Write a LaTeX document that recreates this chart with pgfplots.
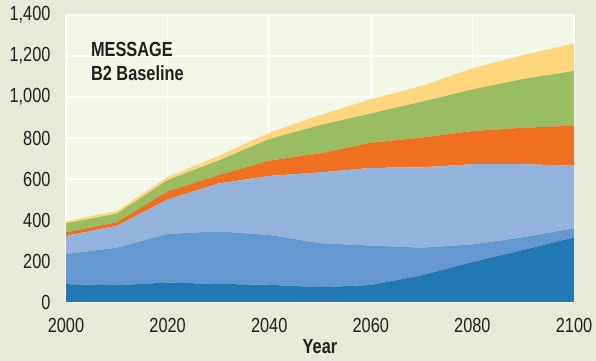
\documentclass[border=0pt]{standalone}
\usepackage{pgfplots}
\pgfplotsset{compat=1.18}
\usepackage{pgfplotstable}
\usepackage{fontspec}
\setmainfont{Liberation Sans}[FakeStretch=0.8]

\definecolor{outerbg}{RGB}{232,234,216}
\definecolor{plotbg}{RGB}{243,247,232}
\definecolor{txt}{RGB}{35,31,32}
\definecolor{cdark}{RGB}{34,120,181}
\definecolor{cmid}{RGB}{99,153,208}
\definecolor{clight}{RGB}{148,180,222}
\definecolor{corange}{RGB}{240,112,34}
\definecolor{cgreen}{RGB}{155,189,98}
\definecolor{cyellow}{RGB}{255,214,126}

% stacked increments
\pgfplotstableread{
year a   b   c   d   e   f
2000 87  147 88  18  44  11
2010 82  183 107 17  42  13
2020 95  237 168 40  55  15
2030 88  257 233 40  72  22
2040 84  243 288 75  105 31
2050 72  215 345 93  138 49
2060 83  192 379 123 143 69
2070 130 135 392 145 175 77
2080 195 86  391 162 203 103
2090 254 62  356 178 238 117
2100 315 45  305 195 267 135
}\energy

\begin{document}
\begin{tikzpicture}
\fill[outerbg] (0,0) rectangle (596bp,361bp);
\useasboundingbox (0,0) rectangle (596bp,361bp);
\begin{axis}[
    at={(66bp,59bp)}, anchor=south west,
    scale only axis,
    width=508bp, height=287bp,
    xmin=2000, xmax=2100, ymin=0, ymax=1400,
    xtick={2000,2020,...,2100},
    ytick={0,200,...,1400},
    stack plots=y,
    grid=major,
    major grid style={white, line width=1.5bp},
    axis line style={white, line width=2bp},
    tick style={draw=none},
    axis background/.style={fill=plotbg},
    ticklabel style={font=\fontsize{20.5}{22}\selectfont, text=txt},
    /pgf/number format/assume math mode=true,
    x tick label style={/pgf/number format/1000 sep={}, yshift=-13bp},
    y tick label style={/pgf/number format/1000 sep={,}, xshift=-12bp},
    xlabel={\bfseries Year},
    xlabel style={font=\fontsize{20.5}{22}\selectfont, text=txt,
        at={(axis description cs:0.5,0)}, anchor=north, inner sep=0pt, yshift=-37bp},
]
\addplot[draw=none, fill=cdark] table[x=year, y=a] {\energy} \closedcycle;
\addplot[draw=none, fill=cmid] table[x=year, y=b] {\energy} \closedcycle;
\addplot[draw=none, fill=clight] table[x=year, y=c] {\energy} \closedcycle;
\addplot[draw=none, fill=corange] table[x=year, y=d] {\energy} \closedcycle;
\addplot[draw=none, fill=cgreen] table[x=year, y=e] {\energy} \closedcycle;
\addplot[draw=none, fill=cyellow] table[x=year, y=f] {\energy} \closedcycle;
\node[anchor=north west, align=left, inner sep=0pt, text=txt,
      font=\fontsize{20.5}{24}\selectfont\bfseries]
    at (axis cs:2004.9,1270) {MESSAGE\\B2 Baseline};
\end{axis}
\end{tikzpicture}
\end{document}
